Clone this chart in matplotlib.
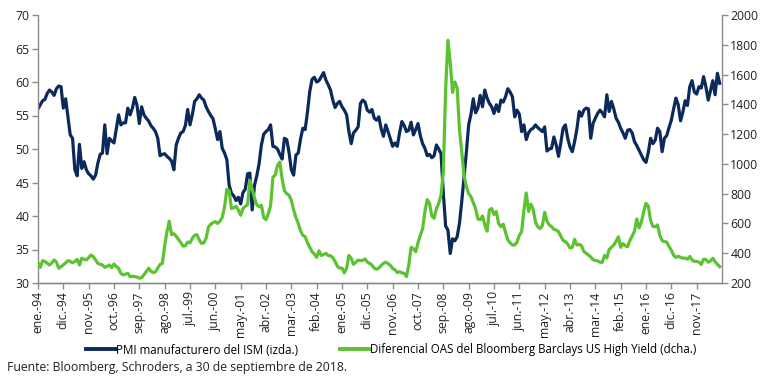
import numpy as np
import matplotlib.pyplot as plt

# PMI manufacturero del ISM (eje izquierdo), mensual ene-1994 .. sep-2018
pmi = [
    56.0, 56.6, 57.2, 57.4, 58.3, 58.8, 58.5, 58.0, 59.0, 59.4, 59.3, 56.1,   # 1994
    57.5, 54.8, 52.1, 51.6, 46.9, 46.0, 50.7, 47.1, 48.1, 46.9, 46.3, 46.0,   # 1995
    45.5, 46.1, 47.9, 49.2, 49.4, 53.6, 49.3, 51.6, 51.2, 50.9, 53.0, 55.1,   # 1996
    53.6, 53.9, 53.9, 56.1, 55.1, 56.1, 57.7, 56.5, 53.8, 56.3, 55.1, 54.6,   # 1997
    54.2, 53.5, 53.1, 52.6, 51.6, 49.0, 49.2, 49.3, 48.9, 48.6, 48.2, 46.9,   # 1998
    50.6, 51.6, 52.4, 52.6, 53.5, 55.9, 53.6, 55.1, 57.1, 57.5, 58.1, 57.6,   # 1999
    57.3, 56.3, 55.6, 55.0, 54.5, 53.0, 51.4, 52.6, 50.1, 49.4, 48.4, 44.6,   # 2000
    43.4, 43.0, 42.3, 42.8, 41.8, 43.5, 44.0, 46.3, 46.4, 40.9, 44.6, 46.0,   # 2001
    47.8, 50.6, 52.2, 52.6, 52.9, 53.6, 50.4, 50.3, 50.0, 49.2, 48.5, 51.6,   # 2002
    51.4, 49.5, 46.9, 46.1, 49.1, 49.4, 51.5, 53.1, 52.9, 55.5, 58.6, 60.4,   # 2003
    60.7, 60.0, 60.2, 60.8, 61.4, 60.3, 59.6, 58.8, 57.3, 56.2, 56.8, 57.1,   # 2004
    56.3, 55.8, 55.1, 52.6, 50.8, 52.4, 52.8, 53.3, 56.8, 57.3, 57.0, 55.8,   # 2005
    55.5, 55.9, 54.6, 54.3, 54.8, 53.0, 51.9, 53.6, 52.6, 51.5, 50.4, 50.9,   # 2006
    50.4, 52.4, 54.1, 53.5, 52.6, 52.8, 54.0, 52.1, 52.9, 53.8, 52.0, 50.8,   # 2007
    50.1, 49.0, 49.2, 48.7, 49.0, 50.6, 50.0, 49.3, 43.4, 38.5, 37.9, 34.4,   # 2008
    36.6, 36.3, 36.9, 38.9, 42.2, 45.9, 49.5, 53.6, 55.2, 57.5, 55.4, 56.1,   # 2009
    58.0, 56.3, 58.8, 57.6, 56.8, 56.3, 55.3, 56.6, 55.6, 57.3, 57.0, 57.8,   # 2010
    59.0, 58.5, 57.8, 54.8, 55.8, 55.2, 52.6, 53.6, 51.4, 52.4, 52.9, 53.1,   # 2011
    53.6, 53.2, 52.9, 52.6, 53.3, 49.7, 50.0, 50.1, 51.8, 50.6, 48.9, 50.9,   # 2012
    53.1, 53.6, 51.6, 50.3, 49.6, 51.1, 53.0, 55.6, 54.9, 55.8, 56.1, 56.0,   # 2013
    51.6, 53.8, 54.6, 55.3, 55.8, 55.4, 54.8, 58.1, 55.6, 57.1, 56.0, 54.6,   # 2014
    54.0, 53.1, 52.4, 51.6, 52.8, 52.9, 52.4, 51.1, 50.5, 49.8, 49.1, 48.4,   # 2015
    48.0, 49.5, 51.6, 50.8, 51.3, 53.1, 52.6, 49.6, 51.6, 52.0, 53.2, 54.3,   # 2016
    56.0, 57.6, 56.6, 54.2, 55.5, 57.2, 56.5, 59.3, 60.2, 58.5, 58.2, 59.3,   # 2017
    59.1, 60.8, 59.3, 57.3, 58.7, 60.2, 58.1, 61.3, 59.8,                     # 2018
]

# Diferencial OAS Bloomberg Barclays US High Yield (eje derecho, pb)
oas = [
    336, 305, 350, 345, 332, 321, 335, 355, 340, 299, 310, 321,   # 1994
    335, 350, 345, 336, 345, 359, 321, 366, 360, 355, 370, 388,   # 1995
    377, 355, 332, 325, 321, 305, 312, 321, 303, 328, 310, 299,   # 1996
    265, 254, 260, 265, 243, 245, 243, 240, 232, 236, 255, 276,   # 1997
    299, 280, 270, 275, 300, 325, 332, 450, 545, 615, 525, 530,   # 1998
    515, 492, 472, 448, 450, 475, 470, 500, 520, 525, 490, 466,   # 1999
    470, 500, 575, 595, 605, 612, 600, 615, 640, 710, 830, 820,   # 2000
    700, 705, 715, 690, 655, 700, 715, 725, 890, 830, 770, 725,   # 2001
    712, 722, 640, 625, 665, 720, 910, 925, 990, 1012, 900, 820,  # 2002
    800, 790, 755, 690, 640, 600, 550, 520, 512, 470, 440, 410,   # 2003
    395, 372, 417, 385, 392, 399, 385, 383, 370, 345, 312, 300,   # 2004
    300, 268, 300, 385, 366, 325, 340, 354, 350, 352, 362, 340,   # 2005
    332, 320, 300, 292, 300, 318, 332, 340, 330, 318, 298, 288,   # 2006
    270, 276, 268, 265, 243, 320, 440, 430, 410, 470, 520, 565,   # 2007
    680, 760, 735, 650, 635, 700, 735, 790, 950, 1500, 1830, 1680,  # 2008
    1480, 1550, 1510, 1230, 1080, 920, 850, 800, 780, 740, 700, 630,  # 2009
    625, 650, 590, 548, 690, 700, 660, 680, 600, 578, 595, 540,   # 2010
    490, 470, 455, 455, 475, 520, 545, 690, 805, 680, 730, 695,   # 2011
    610, 578, 565, 585, 675, 615, 590, 578, 560, 556, 545, 515,   # 2012
    485, 478, 462, 435, 440, 493, 455, 460, 450, 412, 400, 388,   # 2013
    375, 356, 352, 348, 340, 338, 385, 368, 425, 440, 455, 480,   # 2014
    510, 440, 465, 450, 444, 485, 515, 548, 630, 570, 610, 680,   # 2015
    735, 715, 620, 580, 578, 590, 520, 485, 478, 475, 445, 420,   # 2016
    385, 372, 380, 372, 366, 368, 360, 378, 355, 345, 345, 340,   # 2017
    325, 360, 358, 340, 348, 366, 343, 325, 310,                  # 2018
]

tick_labels = ['ene.-94', 'dic.-94', 'nov.-95', 'oct.-96', 'sep.-97', 'ago.-98',
               'jul.-99', 'jun.-00', 'may.-01', 'abr.-02', 'mar.-03', 'feb.-04',
               'ene.-05', 'dic.-05', 'nov.-06', 'oct.-07', 'sep.-08', 'ago.-09',
               'jul.-10', 'jun.-11', 'may.-12', 'abr.-13', 'mar.-14', 'feb.-15',
               'ene.-16', 'dic.-16', 'nov.-17']

navy = '#0B2A5B'
green = '#5DC232'
grey = '#8C8C8C'

plt.rcParams['font.family'] = ['Open Sans', 'DejaVu Sans']

fig = plt.figure(figsize=(7.7, 3.82), dpi=100)
ax = fig.add_axes([38/770, 1-283/382, 684/770, 268/382])
ax2 = ax.twinx()

x = np.arange(len(pmi))
ax.plot(x, pmi, color=navy, lw=2.3, solid_joinstyle='round')
ax2.plot(x, oas, color=green, lw=2.3, solid_joinstyle='round')

ax.set_xlim(0, 297)
ax.set_ylim(30, 70)
ax2.set_ylim(200, 2000)
ax.set_yticks(np.arange(30, 71, 5))
ax2.set_yticks(np.arange(200, 2001, 200))
ax.set_xticks(np.arange(0, 287, 11))
ax.set_xticklabels(tick_labels, rotation=90)

for a in (ax, ax2):
    a.spines['top'].set_visible(False)
    for s in ('left', 'right', 'bottom'):
        a.spines[s].set_color(grey)
        a.spines[s].set_linewidth(1.0)
    a.tick_params(colors=grey, labelcolor='#222222', length=4, width=1.0,
                  labelsize=8.8, pad=2)
ax2.spines['left'].set_visible(False)
ax.spines['right'].set_visible(False)

# leyenda debajo del grafico
h1, = ax.plot([], [], color=navy, lw=2.8)
h2, = ax.plot([], [], color=green, lw=2.8)
fig.legend([h1, h2],
           ['PMI manufacturero del ISM (izda.)',
            'Diferencial OAS del Bloomberg Barclays US High Yield (dcha.)'],
           loc='center', bbox_to_anchor=(391/770, 1-350/382), ncol=2,
           frameon=False, fontsize=8.3, handlelength=2.6, handletextpad=0.05,
           columnspacing=3.6)

fig.text(7/770, 1-368/382, 'Fuente: Bloomberg, Schroders, a 30 de septiembre de 2018.',
         ha='left', va='center', fontsize=8.8, color='#222222')

fig.savefig('out.png', dpi=100)
